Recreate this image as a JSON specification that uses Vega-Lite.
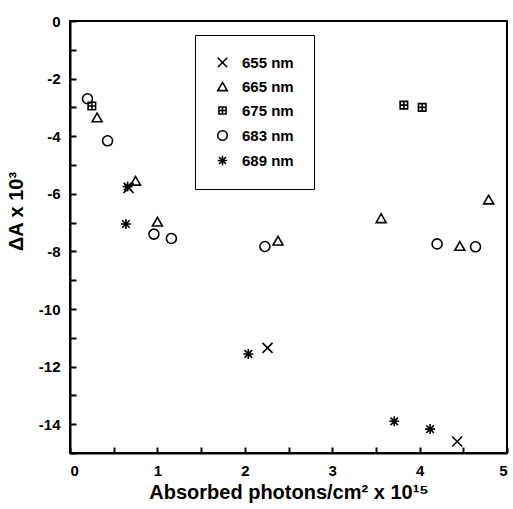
{
  "$schema": "https://vega.github.io/schema/vega-lite/v6.json",
  "autosize": "none",
  "width": 437,
  "height": 432,
  "padding": {"left": 70, "top": 21, "right": 6, "bottom": 56},
  "background": "white",
  "config": {
    "view": {"stroke": "black", "strokeWidth": 2},
    "font": "Liberation Sans",
    "axis": {
      "domainColor": "black", "domainWidth": 2, "tickColor": "black", "tickWidth": 2,
      "labelFont": "Liberation Sans", "labelFontWeight": "bold", "labelFontSize": 15, "labelColor": "black",
      "titleFont": "Liberation Sans", "titleFontWeight": "bold", "titleFontSize": 20, "titleColor": "black",
      "grid": false
    }
  },
  "data": {"values": [
    {"x": 0.67, "y": -5.8, "s": "655 nm"},
    {"x": 2.26, "y": -11.35, "s": "655 nm"},
    {"x": 4.43, "y": -14.6, "s": "655 nm"},
    {"x": 0.31, "y": -3.35, "s": "665 nm"},
    {"x": 0.75, "y": -5.55, "s": "665 nm"},
    {"x": 1.0, "y": -6.97, "s": "665 nm"},
    {"x": 2.38, "y": -7.63, "s": "665 nm"},
    {"x": 3.56, "y": -6.85, "s": "665 nm"},
    {"x": 4.46, "y": -7.81, "s": "665 nm"},
    {"x": 4.79, "y": -6.2, "s": "665 nm"},
    {"x": 0.25, "y": -2.95, "s": "675 nm"},
    {"x": 3.82, "y": -2.92, "s": "675 nm"},
    {"x": 4.03, "y": -3.0, "s": "675 nm"},
    {"x": 0.2, "y": -2.7, "s": "683 nm"},
    {"x": 0.43, "y": -4.16, "s": "683 nm"},
    {"x": 0.96, "y": -7.4, "s": "683 nm"},
    {"x": 1.16, "y": -7.55, "s": "683 nm"},
    {"x": 2.23, "y": -7.83, "s": "683 nm"},
    {"x": 4.2, "y": -7.74, "s": "683 nm"},
    {"x": 4.64, "y": -7.84, "s": "683 nm"},
    {"x": 0.66, "y": -5.75, "s": "689 nm"},
    {"x": 0.64, "y": -7.05, "s": "689 nm"},
    {"x": 2.04, "y": -11.56, "s": "689 nm"},
    {"x": 3.71, "y": -13.9, "s": "689 nm"},
    {"x": 4.12, "y": -14.17, "s": "689 nm"}
  ]},
  "mark": {"type": "point", "filled": false, "stroke": "black", "strokeWidth": 1.6, "size": 100, "opacity": 1},
  "encoding": {
    "x": {"field": "x", "type": "quantitative",
      "scale": {"domain": [0, 5], "nice": false, "zero": false},
      "axis": {"values": [0, 0.5, 1, 1.5, 2, 2.5, 3, 3.5, 4, 4.5, 5], "labelExpr": "datum.value % 1 === 0 ? '' + datum.value : ''",
        "tickSize": -6, "labelPadding": 16, "title": "Absorbed photons/cm² x 10¹⁵", "titlePadding": 4}},
    "y": {"field": "y", "type": "quantitative",
      "scale": {"domain": [-15, 0], "nice": false, "zero": false},
      "axis": {"values": [-15, -14, -13, -12, -11, -10, -9, -8, -7, -6, -5, -4, -3, -2, -1, 0], "labelExpr": "datum.value % 2 === 0 ? '' + datum.value : ''",
        "tickSize": -6, "labelPadding": 16, "title": "ΔA x 10³", "titleX": -44, "titleY": 190}},
    "shape": {"field": "s", "type": "nominal",
      "scale": {"domain": ["655 nm", "665 nm", "675 nm", "683 nm", "689 nm"],
        "range": ["M-1,-1L1,1M-1,1L1,-1", "triangle-up", "M-0.75,-0.75H0.75V0.75H-0.75ZM0,-0.75V0.75M-0.75,0H0.75", "circle", "M0,-1V1M-1,0H1M-0.75,-0.75L0.75,0.75M-0.75,0.75L0.75,-0.75"]},
      "legend": {"orient": "none", "legendX": 125, "legendY": 14, "title": null,
        "strokeColor": "black", "fillColor": "white", "padding": 20, "rowPadding": 8,
        "labelFont": "Liberation Sans", "labelFontWeight": "bold", "labelFontSize": 15, "labelColor": "black",
        "symbolStrokeColor": "black", "symbolStrokeWidth": 1.6, "symbolSize": 90, "symbolFillColor": "transparent", "labelOffset": 12}}
  }
}
